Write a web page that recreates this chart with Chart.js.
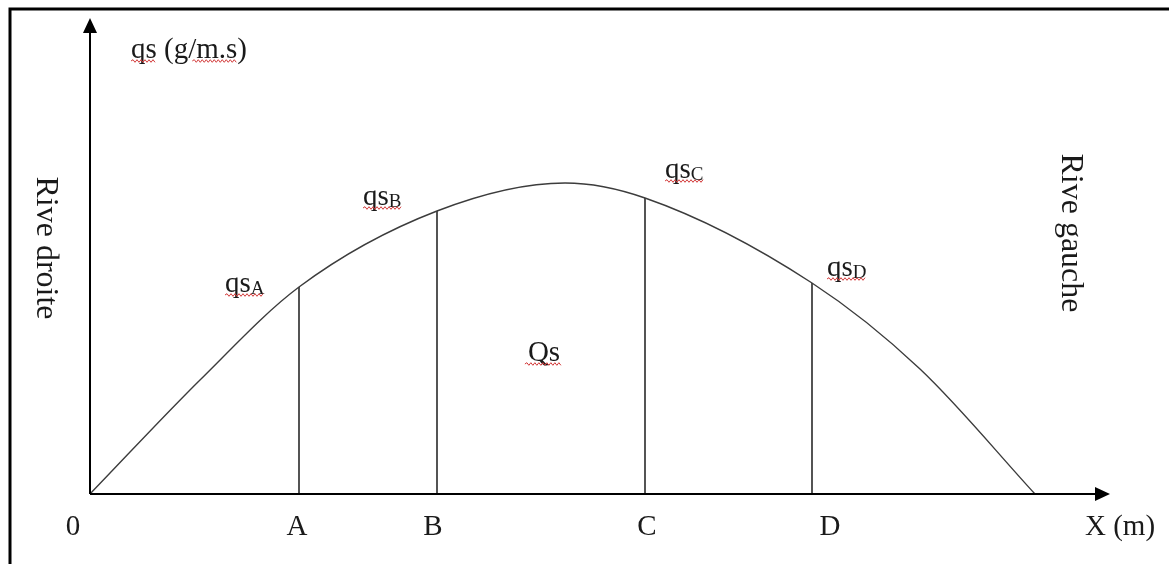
<!DOCTYPE html>
<html><head><meta charset="utf-8">
<script src="https://cdn.jsdelivr.net/npm/chart.js@4/dist/chart.umd.min.js"></script>
<style>html,body{margin:0;padding:0;background:#fff}canvas{display:block}</style>
</head><body>
<canvas id="c" width="1169" height="564"></canvas>
<script>
// Cross-section profile of unit solid discharge qs between the two banks
const curveX = [0, 11, 20.9, 34.7, 47.5, 55.5, 72.2, 83, 94.5];
const curveY = [0, 11.4, 20.7, 28.3, 31.1, 29.6, 21.1, 12.5, 0];

// Sampling verticals A..D
const verticalNames = ['A', 'B', 'C', 'D'];
const verticalX = [20.9, 34.7, 55.5, 72.2];
const verticalY = [20.7, 28.3, 29.6, 21.1];

const originLabel = '0';
const xAxisTitle = 'X (m)';
const yAxisTitle = 'qs (g/m.s)';
const areaLabel = 'Qs';
const bankLeft = 'Rive droite';
const bankRight = 'Rive gauche';

const xMax = 102;
const yMax = 47.6;

const SERIF = '"Liberation Serif", "Times New Roman", serif';
const INK = '#1a1a1a';

// label placement relative to the top of each vertical (px)
const qsOffsets = [[-74, 5], [-74, -6], [20, -20], [15, -7]];
const tickOffsets = [-2, -4, 2, 18];

function wave(ctx, x0, x1, y) {
  ctx.save();
  ctx.strokeStyle = '#d23a3a';
  ctx.lineWidth = 1;
  ctx.beginPath();
  let up = true;
  ctx.moveTo(x0, y);
  for (let x = x0 + 2; x <= x1; x += 2) {
    ctx.lineTo(x, y + (up ? -1.3 : 1.3));
    up = !up;
  }
  ctx.stroke();
  ctx.restore();
}

const sketch = {
  id: 'sketch',
  afterDraw(chart) {
    const ctx = chart.ctx;
    const xs = chart.scales.x, ys = chart.scales.y;
    const ox = xs.getPixelForValue(0), oy = ys.getPixelForValue(0);
    const xe = xs.getPixelForValue(xMax), ye = ys.getPixelForValue(yMax);

    ctx.save();
    // frame
    ctx.strokeStyle = '#000';
    ctx.lineWidth = 3;
    ctx.beginPath();
    ctx.moveTo(10, chart.height);
    ctx.lineTo(10, 9);
    ctx.lineTo(chart.width, 9);
    ctx.stroke();

    // axes with arrow heads
    ctx.lineWidth = 2;
    ctx.beginPath();
    ctx.moveTo(ox, oy); ctx.lineTo(ox, ye + 14);
    ctx.moveTo(ox, oy); ctx.lineTo(xe - 14, oy);
    ctx.stroke();
    ctx.fillStyle = '#000';
    ctx.beginPath();
    ctx.moveTo(ox, ye); ctx.lineTo(ox - 7, ye + 15); ctx.lineTo(ox + 7, ye + 15); ctx.closePath();
    ctx.fill();
    ctx.beginPath();
    ctx.moveTo(xe, oy); ctx.lineTo(xe - 15, oy - 7); ctx.lineTo(xe - 15, oy + 7); ctx.closePath();
    ctx.fill();

    ctx.fillStyle = INK;
    ctx.textBaseline = 'alphabetic';
    ctx.font = '29px ' + SERIF;

    // y axis title
    ctx.textAlign = 'left';
    const tx = ox + 41, ty = ye + 40;
    ctx.fillText(yAxisTitle, tx, ty);
    const wq = ctx.measureText('qs').width;
    const wPre = ctx.measureText('qs (g/').width;
    const wAll = ctx.measureText(yAxisTitle).width;
    const wPar = ctx.measureText(')').width;
    wave(ctx, tx, tx + wq, ty + 3);
    wave(ctx, tx + wPre - 4, tx + wAll - wPar, ty + 3);

    // x tick labels
    const base = oy + 41;
    ctx.textAlign = 'center';
    ctx.fillText(originLabel, ox - 17, base);
    verticalNames.forEach((n, i) => {
      ctx.fillText(n, xs.getPixelForValue(verticalX[i]) + tickOffsets[i], base);
    });
    ctx.textAlign = 'left';
    ctx.fillText(xAxisTitle, xe - 25, base);

    // qs labels with subscripts
    verticalNames.forEach((n, i) => {
      const px = xs.getPixelForValue(verticalX[i]) + qsOffsets[i][0];
      const py = ys.getPixelForValue(verticalY[i]) + qsOffsets[i][1];
      ctx.font = '29px ' + SERIF;
      ctx.fillText('qs', px, py);
      const w1 = ctx.measureText('qs').width;
      ctx.font = '19px ' + SERIF;
      ctx.fillText(n, px + w1, py + 2);
      const w2 = ctx.measureText(n).width;
      wave(ctx, px, px + w1 + w2, py + 3);
    });

    // area label
    ctx.font = '29px ' + SERIF;
    ctx.textAlign = 'center';
    const qx = xs.getPixelForValue(45.4), qy = ys.getPixelForValue(13.3);
    ctx.fillText(areaLabel, qx, qy);
    const wQ = ctx.measureText(areaLabel).width;
    wave(ctx, qx - wQ / 2 - 3, qx + wQ / 2 + 2, qy + 3);

    // bank names, written top to bottom
    ctx.font = '32px ' + SERIF;
    ctx.textBaseline = 'middle';
    [[bankLeft, 45, 248], [bankRight, 1070, 233]].forEach(([t, x, y]) => {
      ctx.save();
      ctx.translate(x, y);
      ctx.rotate(Math.PI / 2);
      ctx.fillText(t, 0, 0);
      ctx.restore();
    });
    ctx.restore();
  }
};

const datasets = [{
  data: curveX.map((x, i) => ({ x, y: curveY[i] })),
  borderColor: '#3c3c3c',
  borderWidth: 1.4,
  pointRadius: 0,
  showLine: true,
  cubicInterpolationMode: 'monotone',
  clip: false
}];
verticalNames.forEach((n, i) => {
  datasets.push({
    data: [{ x: verticalX[i], y: 0 }, { x: verticalX[i], y: verticalY[i] }],
    borderColor: '#2a2a2a',
    borderWidth: 1.6,
    pointRadius: 0,
    showLine: true,
    clip: false
  });
});

new Chart(document.getElementById('c'), {
  type: 'scatter',
  data: { datasets },
  options: {
    responsive: false,
    devicePixelRatio: 1,
    animation: false,
    layout: { padding: { left: 90, right: 59, top: 18, bottom: 70 } },
    plugins: { legend: { display: false }, tooltip: { enabled: false } },
    scales: {
      x: { type: 'linear', min: 0, max: xMax, display: false },
      y: { type: 'linear', min: 0, max: yMax, display: false }
    }
  },
  plugins: [sketch]
});
</script>
</body></html>
